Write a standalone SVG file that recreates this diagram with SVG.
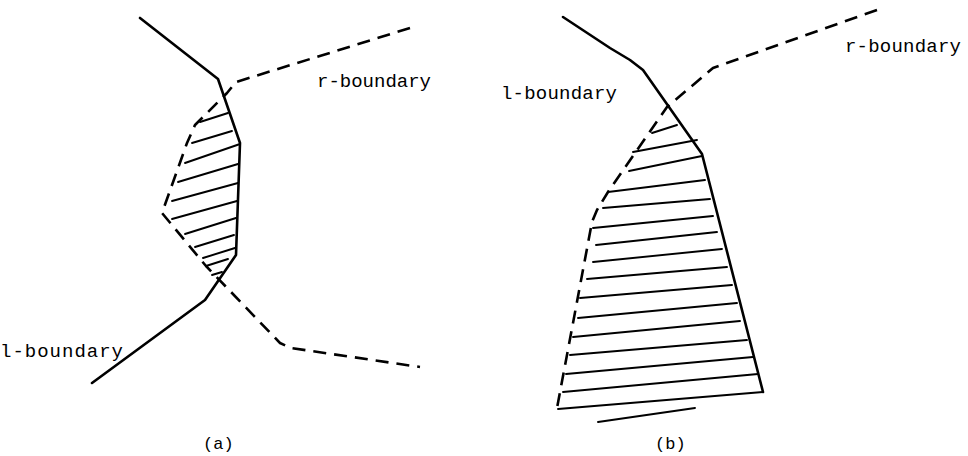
<svg xmlns="http://www.w3.org/2000/svg" width="968" height="456" viewBox="0 0 968 456">
<style>
.solid{fill:none;stroke:#000;stroke-width:2.6;stroke-linejoin:round;stroke-linecap:round}
.dash{fill:none;stroke:#000;stroke-width:2.6;stroke-dasharray:13 8;stroke-linejoin:round}
.hatch{fill:none;stroke:#000;stroke-width:1.9;stroke-linecap:round}
.lbl{font-family:"Liberation Mono","DejaVu Sans Mono",monospace;font-size:19px;fill:#000}
.cap{font-family:"Liberation Mono","DejaVu Sans Mono",monospace;font-size:17px;fill:#000}
</style>
<rect width="968" height="456" fill="#fff"/>
<g id="fig-a">
  <g id="a-l-boundary">
    <polyline class="solid" points="140,18 218,79 240,143 236,255 205,300 92,383"/>
    <text class="lbl" x="0" y="357" textLength="123">l-boundary</text>
  </g>
  <g id="a-r-boundary">
    <polyline class="dash" points="410,28 236,82 227,93 195,125 187,143 162,213 206,266 280,343 291,348 420,367"/>
    <text class="lbl" x="317" y="87" textLength="114">r-boundary</text>
  </g>
  <g id="a-hatch">
    <line class="hatch" x1="200" y1="122" x2="228" y2="113"/>
    <line class="hatch" x1="192" y1="143" x2="232" y2="131"/>
    <line class="hatch" x1="185" y1="163" x2="240" y2="144"/>
    <line class="hatch" x1="178" y1="182" x2="238" y2="164"/>
    <line class="hatch" x1="172" y1="201" x2="238" y2="183"/>
    <line class="hatch" x1="172" y1="219" x2="237" y2="201"/>
    <line class="hatch" x1="185" y1="234" x2="236" y2="218"/>
    <line class="hatch" x1="195" y1="247" x2="234" y2="235"/>
    <line class="hatch" x1="203" y1="258" x2="235" y2="248"/>
    <line class="hatch" x1="206" y1="266" x2="228" y2="259"/>
    <line class="hatch" x1="212" y1="275" x2="222" y2="272"/>
  </g>
  <text id="cap-a" class="cap" x="203" y="449">(a)</text>
</g>
<g id="fig-b">
  <g id="b-l-boundary">
    <polyline class="solid" points="563,17 610,48 630,60 643,70 702,154 763,392"/>
    <text class="lbl" x="501" y="99" textLength="116">l-boundary</text>
  </g>
  <g id="b-r-boundary">
    <polyline class="dash" points="877,10 713,68 667,107 608,192 597,210 592,222 557,408"/>
    <text class="lbl" x="845" y="52" textLength="116">r-boundary</text>
  </g>
  <g id="b-hatch">
    <line class="hatch" x1="652" y1="133" x2="677" y2="125"/>
    <line class="hatch" x1="633" y1="152" x2="697" y2="140"/>
    <line class="hatch" x1="629" y1="171" x2="702" y2="156"/>
    <line class="hatch" x1="608" y1="192" x2="705" y2="180"/>
    <line class="hatch" x1="603" y1="208" x2="710" y2="199"/>
    <line class="hatch" x1="593" y1="228" x2="713" y2="216"/>
    <line class="hatch" x1="596" y1="245" x2="717" y2="232"/>
    <line class="hatch" x1="593" y1="262" x2="722" y2="249"/>
    <line class="hatch" x1="587" y1="279" x2="727" y2="267"/>
    <line class="hatch" x1="580" y1="298" x2="732" y2="285"/>
    <line class="hatch" x1="578" y1="318" x2="737" y2="303"/>
    <line class="hatch" x1="573" y1="337" x2="740" y2="321"/>
    <line class="hatch" x1="570" y1="355" x2="747" y2="340"/>
    <line class="hatch" x1="566" y1="374" x2="753" y2="357"/>
    <line class="hatch" x1="563" y1="392" x2="758" y2="374"/>
    <line class="hatch" x1="558" y1="409" x2="763" y2="392"/>
    <line class="hatch" x1="598" y1="422" x2="695" y2="408"/>
  </g>
  <text id="cap-b" class="cap" x="655" y="449">(b)</text>
</g>
</svg>
